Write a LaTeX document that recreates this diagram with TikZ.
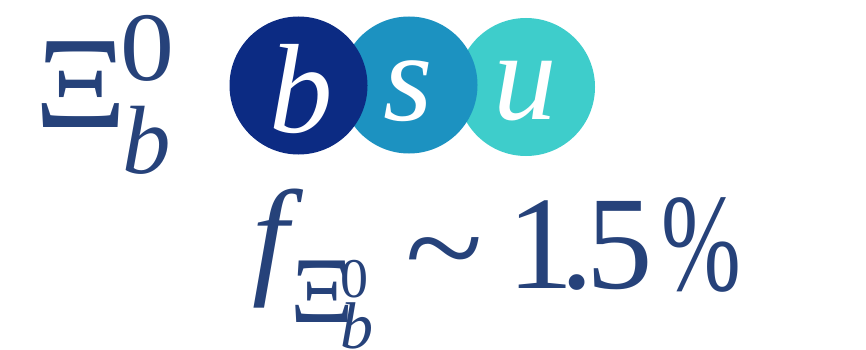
\documentclass[tikz,border=0pt]{standalone}
\usepackage{fontspec}
\usepackage{graphicx}
\setmainfont{Liberation Serif}
\definecolor{txt}{HTML}{26427A}
\definecolor{bcol}{HTML}{0C2B83}
\definecolor{scol}{HTML}{1C92C1}
\definecolor{ucol}{HTML}{3ECDCB}
\newcommand{\fsz}[1]{\fontsize{#1pt}{#1pt}\selectfont}
\begin{document}
\begin{tikzpicture}[x=1pt,y=-1pt,
  glyph/.style={inner sep=0pt, outer sep=0pt, anchor=base west, text=txt},
  qlet/.style={inner sep=0pt, outer sep=0pt, anchor=center, text=white, font=\fsz{127}\itshape}]
\useasboundingbox (0,0) rectangle (866,350);
% quark circles
\fill[ucol] (526,87) circle (69pt);
\fill[scol] (409,85) circle (68.5pt);
\fill[bcol] (298.5,85.5) circle (69pt);
\node[qlet] (qb) at (301,89.5) {b};
\node[qlet] (qs) at (408.5,91.5) {s};
\node[qlet] (qu) at (525.5,91.5) {u};
% Xi_b^0 label
\node[glyph, font=\fsz{131}] (xi) at (34.5,128) {\scalebox{1.1}[1]{Ξ}};
\node[glyph, font=\fsz{98}] (xisup) at (120.5,81) {\scalebox{1.1}[1]{0}};
\node[glyph, font=\fsz{97}\itshape] (xisub) at (122,173) {b};
% fraction
\node[glyph, font=\fsz{130}\itshape] (f) at (252,280) {f};
\node[glyph, font=\fsz{94}] (fxi) at (290,322) {\scalebox{1.05}[1]{Ξ}};
\node[glyph, font=\fsz{56}] (fsup) at (340,297) {0};
\node[glyph, font=\fsz{66}\itshape] (fsub) at (340.5,348) {b};
\node[glyph, font=\fsz{133}] (sim) at (405,292) {\scalebox{1.08}[1]{\symbol{"7E}}};
\node[glyph, font=\fsz{133}] (one) at (507,288) {1};
\node[glyph, font=\fsz{133}] (dot) at (560,288) {.};
\node[glyph, font=\fsz{133}] (five) at (586,288) {5};
\node[glyph, font=\fsz{133}] (pct) at (661,290) {\scalebox{0.72}[1.05]{\%}};
\end{tikzpicture}
\end{document}
